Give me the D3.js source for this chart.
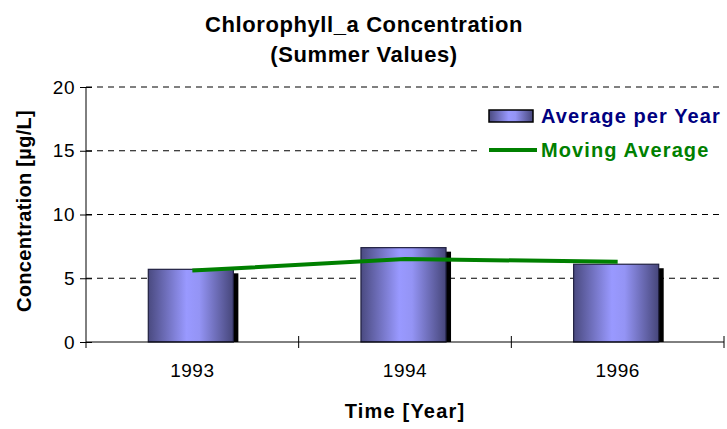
<!DOCTYPE html>
<html>
<head>
<meta charset="utf-8">
<script src="https://cdn.jsdelivr.net/npm/d3@7"></script>
<style>
  body { margin: 0; background: #fff; }
  svg { font-family: "Liberation Sans", Arial, sans-serif; }
</style>
</head>
<body>
<div id="graph"></div>
<script>
// datos
let years = ["1993", "1994", "1996"];
let avgPerYear = [5.7, 7.4, 6.1];
let movingAvg = [5.6, 6.5, 6.3];
let yTicks = [0, 5, 10, 15, 20];

var svgWidth = 727;
var svgHeight = 429;

var margin = { top: 87, right: 3, bottom: 87, left: 86 };
var chartWidth = svgWidth - margin.left - margin.right;
var chartHeight = svgHeight - margin.top - margin.bottom;

var svg = d3.select("#graph")
  .append("svg")
  .attr("width", svgWidth)
  .attr("height", svgHeight);

// gradiente de las barras
var defs = svg.append("defs");
var grad = defs.append("linearGradient")
  .attr("id", "barGrad")
  .attr("x1", "0%").attr("x2", "100%").attr("y1", "0%").attr("y2", "0%");
grad.append("stop").attr("offset", "0%").attr("stop-color", "#4a4a80");
grad.append("stop").attr("offset", "45%").attr("stop-color", "#9999ff");
grad.append("stop").attr("offset", "60%").attr("stop-color", "#9494f5");
grad.append("stop").attr("offset", "100%").attr("stop-color", "#46467a");

var chartGroup = svg.append("g")
  .attr("transform", `translate(${margin.left}, ${margin.top})`);

var xBandScale = d3.scaleBand()
  .domain(years)
  .range([0, chartWidth]);

var yLinearScale = d3.scaleLinear()
  .domain([0, 20])
  .range([chartHeight, 0]);

// grid lines
chartGroup.append("g")
  .selectAll("line")
  .data(yTicks.filter(d => d > 0))
  .enter()
  .append("line")
  .attr("x1", 0)
  .attr("x2", chartWidth)
  .attr("y1", d => yLinearScale(d))
  .attr("y2", d => yLinearScale(d))
  .attr("stroke", "#000")
  .attr("stroke-width", 1)
  .attr("stroke-dasharray", "6,5");

// barras
var barW = xBandScale.bandwidth() * 0.4;
var bars = chartGroup.append("g");
years.forEach(function (yr, i) {
  var x0 = xBandScale(yr) + xBandScale.bandwidth() / 2 - barW / 2 - 1.5;
  var y0 = yLinearScale(avgPerYear[i]);
  // sombra
  bars.append("rect")
    .attr("x", x0 + 5)
    .attr("y", y0 + 4)
    .attr("width", barW)
    .attr("height", chartHeight - y0 - 4)
    .attr("fill", "#000");
  bars.append("rect")
    .attr("x", x0)
    .attr("y", y0)
    .attr("width", barW)
    .attr("height", chartHeight - y0)
    .attr("fill", "url(#barGrad)")
    .attr("stroke", "#202040")
    .attr("stroke-width", 1.2);
});

// linea media movil
var drawLine = d3.line()
  .x((d, i) => xBandScale(years[i]) + xBandScale.bandwidth() / 2)
  .y(d => yLinearScale(d));

chartGroup.append("path")
  .attr("d", drawLine(movingAvg))
  .attr("fill", "none")
  .attr("stroke", "#008000")
  .attr("stroke-width", 4);

// ejes
var leftAxis = d3.axisLeft(yLinearScale)
  .tickValues(yTicks)
  .tickSize(12)
  .tickSizeOuter(0)
  .tickPadding(5);

var yAxisG = chartGroup.append("g")
  .attr("transform", "translate(6,0)")
  .call(leftAxis);
yAxisG.select(".domain").remove();
yAxisG.selectAll("text")
  .attr("font-size", 19)
  .attr("letter-spacing", 0.5)
  .attr("font-family", "Liberation Sans, Arial, sans-serif")
  .attr("fill", "#000");

chartGroup.append("line")
  .attr("x1", 0).attr("x2", 0)
  .attr("y1", 0).attr("y2", chartHeight + 6)
  .attr("stroke", "#000");

var bottomAxis = d3.axisBottom(xBandScale)
  .tickSize(0)
  .tickPadding(22);

var xAxisG = chartGroup.append("g")
  .attr("transform", `translate(0, ${chartHeight})`)
  .call(bottomAxis);
xAxisG.select(".domain").attr("stroke", "#000").attr("d", `M0,0H${chartWidth}`);
xAxisG.selectAll("text")
  .attr("font-size", 19)
  .attr("letter-spacing", 0.5)
  .attr("font-family", "Liberation Sans, Arial, sans-serif")
  .attr("fill", "#000");

// separadores de categorias
chartGroup.append("g")
  .selectAll("line")
  .data(years.slice(1).concat(["end"]))
  .enter()
  .append("line")
  .attr("x1", d => d == "end" ? chartWidth : xBandScale(d))
  .attr("x2", d => d == "end" ? chartWidth : xBandScale(d))
  .attr("y1", chartHeight - 6)
  .attr("y2", chartHeight + 6)
  .attr("stroke", "#000");

// titulos
svg.append("text")
  .attr("x", 364).attr("y", 32)
  .attr("text-anchor", "middle")
  .attr("font-size", 22).attr("font-weight", "bold")
  .attr("letter-spacing", 0.6)
  .text("Chlorophyll_a Concentration");
svg.append("text")
  .attr("x", 364).attr("y", 62)
  .attr("text-anchor", "middle")
  .attr("font-size", 22).attr("font-weight", "bold")
  .attr("letter-spacing", 0.6)
  .text("(Summer Values)");

svg.append("text")
  .attr("x", 405).attr("y", 418)
  .attr("text-anchor", "middle")
  .attr("font-size", 20).attr("font-weight", "bold")
  .attr("letter-spacing", 1.2)
  .text("Time [Year]");

svg.append("text")
  .attr("transform", "translate(31, 211) rotate(-90)")
  .attr("text-anchor", "middle")
  .attr("font-size", 20).attr("font-weight", "bold")
  .attr("letter-spacing", 0.3)
  .text("Concentration [µg/L]");

// leyenda (fondo blanco tapa la grilla)
var legend = svg.append("g");
legend.append("rect")
  .attr("x", 480).attr("y", 100)
  .attr("width", 247).attr("height", 70)
  .attr("fill", "#fff");
legend.append("rect")
  .attr("x", 489).attr("y", 110)
  .attr("width", 44).attr("height", 12)
  .attr("fill", "url(#barGrad)")
  .attr("stroke", "#000").attr("stroke-width", 1.5);
legend.append("text")
  .attr("x", 541).attr("y", 123)
  .attr("font-size", 20).attr("font-weight", "bold")
  .attr("letter-spacing", 1.1)
  .attr("fill", "#000080")
  .text("Average per Year");
legend.append("line")
  .attr("x1", 489).attr("x2", 537)
  .attr("y1", 150).attr("y2", 150)
  .attr("stroke", "#008000").attr("stroke-width", 4);
legend.append("text")
  .attr("x", 541).attr("y", 157)
  .attr("font-size", 20).attr("font-weight", "bold")
  .attr("letter-spacing", 1.1)
  .attr("fill", "#008000")
  .text("Moving Average");
</script>
</body>
</html>
